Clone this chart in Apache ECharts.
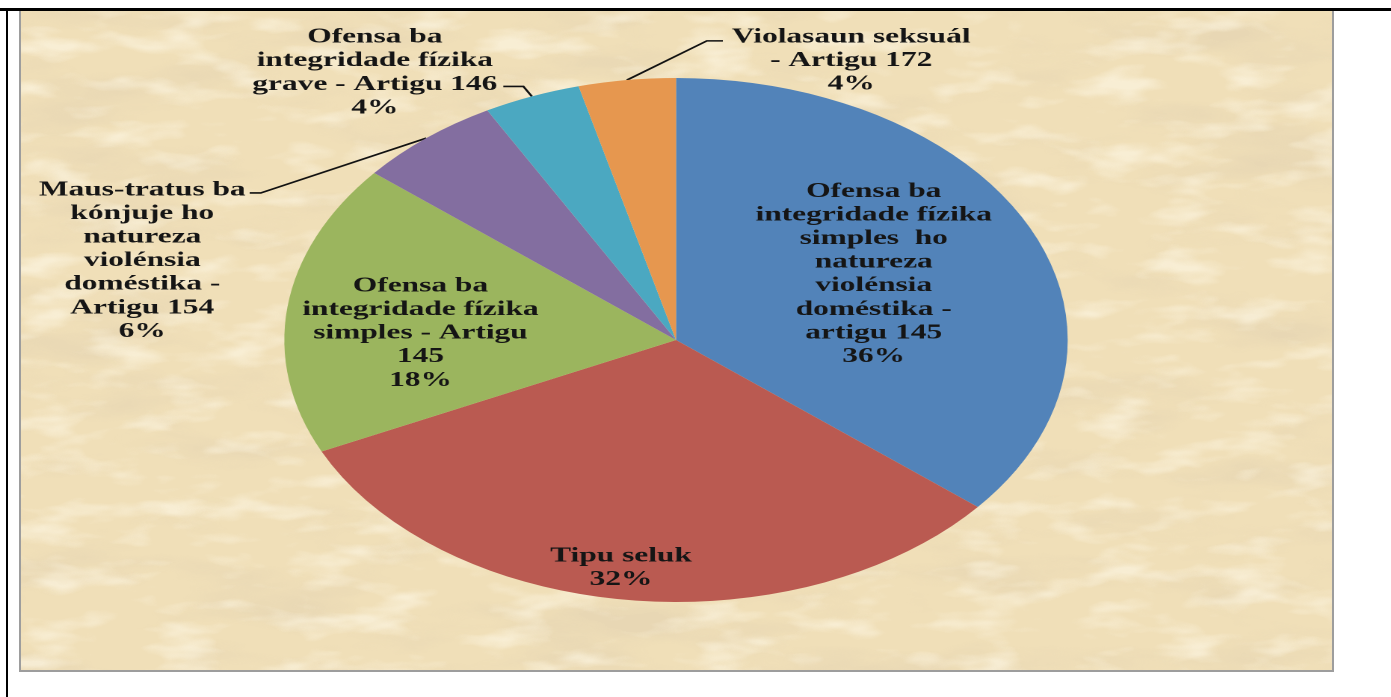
<!DOCTYPE html>
<html>
<head>
<meta charset="utf-8">
<script src="https://cdn.jsdelivr.net/npm/echarts@6/dist/echarts.min.js"></script>
<style>
  html, body { margin: 0; padding: 0; width: 1391px; height: 697px; overflow: hidden; background: #ffffff; }
  #panel { position: absolute; left: 19px; top: 9px; width: 1311px; height: 659px; border: 2px solid #9d9d9d; box-sizing: content-box; }
  #topline { position: absolute; left: 0; top: 8px; width: 1391px; height: 3px; background: #000; }
  #leftline { position: absolute; left: 6px; top: 8px; width: 2px; height: 689px; background: #000; }
  #wrap { position: absolute; left: 0; top: 0; width: 930.4px; height: 697px; transform: scaleX(1.495); transform-origin: 0 0; }
</style>
</head>
<body>
<div id="panel"></div>
<div id="topline"></div>
<div id="leftline"></div>
<div id="wrap"></div>
<script>
// ---------- data ----------
const categories = [
  'Ofensa ba\nintegridade fízika\nsimples  ho\nnatureza\nviolénsia\ndoméstika -\nartigu 145',
  'Tipu seluk',
  'Ofensa ba\nintegridade fízika\nsimples - Artigu\n145',
  'Maus-tratus ba\nkónjuje ho\nnatureza\nviolénsia\ndoméstika -\nArtigu 154',
  'Ofensa ba\nintegridade fízika\ngrave - Artigu 146',
  'Violasaun seksuál\n- Artigu 172'
];
const values = [36, 32, 18, 6, 4, 4];

// ---------- styles / layout ----------
const colors = ['#5283B9', '#BA5A51', '#9BB55E', '#836EA0', '#4BA8C1', '#E6974F'];
const SX = 1.495;                 // horizontal stretch of the whole picture
const LH = 23.6;                  // label line height
const insideLabel = [true, true, true, false, false, false];
// inside labels: shift from default centre; outside labels: shift of label (centre-x, top) from slice edge point
const labelShift = [[11, -9], [-20, 95], [-38, 10], [-190, 40], [-105, -71], [150, -55]];
// leader lines for outside labels: which text line they attach to, vertical nudge, gap and horizontal length
const leaderLine = { 3: [0, 3, 2.7, 7.4], 4: [2, 2, 4, 13.4], 5: [0, 4, 6, 10.7] };

// ---------- background texture ----------
(function () {
  const w = 1311, h = 659;
  const svg = "<svg xmlns='http://www.w3.org/2000/svg' width='" + w + "' height='" + h + "'>" +
    "<filter id='a'><feTurbulence type='fractalNoise' baseFrequency='0.006 0.022' numOctaves='4' seed='7'/>" +
    "<feColorMatrix type='matrix' values='0 0 0 0 0.76  0 0 0 0 0.64  0 0 0 0 0.44  3 0 0 0 -1.45'/></filter>" +
    "<filter id='b'><feTurbulence type='fractalNoise' baseFrequency='0.015 0.045' numOctaves='3' seed='2'/>" +
    "<feColorMatrix type='matrix' values='0 0 0 0 0.99  0 0 0 0 0.94  0 0 0 0 0.80  3 0 0 0 -1.5'/></filter>" +
    "<rect width='100%' height='100%' fill='#F0DFB8'/>" +
    "<rect width='100%' height='100%' filter='url(#a)' opacity='0.5'/>" +
    "<rect width='100%' height='100%' filter='url(#b)' opacity='0.6'/>" +
    "</svg>";
  document.getElementById('panel').style.background =
    "url(\"data:image/svg+xml," + encodeURIComponent(svg) + "\")";
})();

// ---------- chart ----------
const chart = echarts.init(document.getElementById('wrap'), null, { renderer: 'canvas', devicePixelRatio: 2 });

const seriesData = values.map(function (v, i) {
  return {
    name: categories[i],
    value: v,
    itemStyle: { color: colors[i] },
    label: { position: insideLabel[i] ? 'inside' : 'outside' },
    labelLine: { show: !insideLabel[i] }
  };
});

chart.setOption({
  animation: false,
  backgroundColor: 'transparent',
  series: [{
    type: 'pie',
    center: [676 / SX, 340],
    radius: [0, 262],
    startAngle: 90,
    clockwise: true,
    avoidLabelOverlap: false,
    silent: true,
    itemStyle: { borderWidth: 0 },
    label: {
      show: true,
      overflow: 'none',
      formatter: function (p) { return p.name + '\n' + Math.round(p.percent) + '%'; },
      fontFamily: 'Liberation Serif',
      fontWeight: 'bold',
      fontSize: 21,
      lineHeight: LH,
      color: '#151515',
      align: 'center'
    },
    labelLine: { show: true, length: 15, length2: 15, lineStyle: { color: '#111', width: 1.6 } },
    labelLayout: function (p) {
      const i = p.dataIndex;
      const r = p.labelRect;
      const sh = labelShift[i];
      if (insideLabel[i]) {
        return { x: r.x + r.width / 2 + sh[0], y: r.y + r.height / 2 + sh[1], align: 'center', verticalAlign: 'middle' };
      }
      const e = p.labelLinePoints[0];
      const cx = e[0] + sh[0];
      const top = e[1] + sh[1];
      const ll = leaderLine[i];
      const ly = top + LH * (ll[0] + 0.5) + ll[1];
      let p1, p2;
      if (cx < e[0]) {
        p2 = [cx + r.width / 2 + ll[2], ly];
        p1 = [p2[0] + ll[3], ly];
      } else {
        p2 = [cx - r.width / 2 - ll[2], ly];
        p1 = [p2[0] - ll[3], ly];
      }
      return { x: cx, y: top, align: 'center', verticalAlign: 'top', labelLinePoints: [e, p1, p2] };
    },
    data: seriesData
  }]
});
</script>
</body>
</html>
